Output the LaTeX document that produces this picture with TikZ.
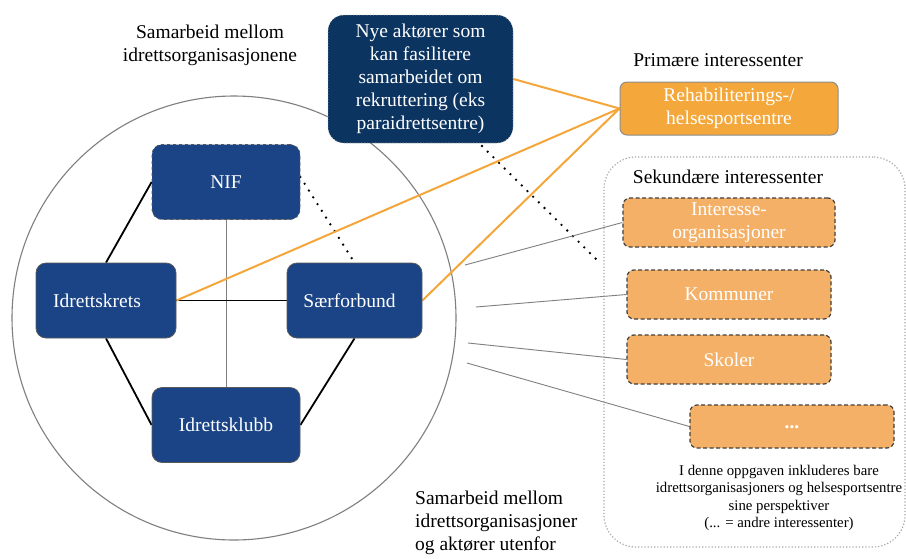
\documentclass[tikz,border=0pt]{standalone}
\usepackage{fontspec}
\setmainfont{Liberation Serif}
\usetikzlibrary{backgrounds}
\pgfdeclarelayer{edges}
\pgfsetlayers{background,edges,main}
\definecolor{navyA}{HTML}{1B4486}
\definecolor{navyB}{HTML}{0C3461}
\definecolor{orA}{HTML}{F4A83C}
\definecolor{orB}{HTML}{F5B067}
\definecolor{orL}{HTML}{F5A63A}
\definecolor{grL}{HTML}{7F7F7F}
\begin{document}
\begin{tikzpicture}[x=1pt,y=-1pt,
  every node/.style={font=\fontsize{19.5}{23}\selectfont, inner sep=0pt},
  bluebox/.style={draw=black!65, line width=0.8pt, fill=navyA, rounded corners=10pt, text=white, minimum height=75pt},
  nyebox/.style={draw=black!30, dotted, line width=0.8pt, fill=navyB, rounded corners=16pt, text=white, align=center, minimum width=185pt, minimum height=128pt},
  rehabbox/.style={draw=black!45, line width=1pt, fill=orA, rounded corners=7pt, text=white, align=center, minimum width=218pt, minimum height=53pt},
  sekbox/.style={draw=black!75, dash pattern=on 4pt off 2.5pt, line width=1.2pt, fill=orB, rounded corners=7pt, text=white, align=center, minimum width=204pt, minimum height=49pt},
  blk/.style={line width=1.8pt, black},
  thinl/.style={line width=0.9pt, grL},
  orline/.style={line width=2pt, orL},
  dotl/.style={line width=2.6pt, dash pattern=on 0pt off 8pt, line cap=round, black}
]
\path[use as bounding box, clip] (0,0) rectangle (906,558);
\begin{pgfonlayer}{background}
\fill[white] (0,0) rectangle (906,558);
\draw[line width=1.1pt, grL] (234,318) circle (222);
\end{pgfonlayer}

% container
\node[draw=black!35, dotted, line width=1.2pt, rounded corners=32pt, minimum width=301pt, minimum height=390pt] (sek) at (754.5,352) {};

% labels
\node[align=center] (t1) at (210,45) {Samarbeid mellom\\idrettsorganisasjonene};
\node (t2) at (718,60) {Primære interessenter};
\node (t3) at (728,177) {Sekundære interessenter};
\node[align=left, anchor=north west] (t4) at (415,491) {Samarbeid mellom\\idrettsorganisasjoner\\og aktører utenfor};
\node[align=center, font=\fontsize{14.8}{17.6}\selectfont] (t5) at (779,498) {I denne oppgaven inkluderes bare\\idrettsorganisasjoners og helsesportsentre\\sine perspektiver\\(... = andre interessenter)};

% boxes
\node[bluebox, dashed, minimum width=148pt] (nif) at (226,182) {NIF};
\node[bluebox, minimum width=140pt] (krets) at (106,300.5) {\hspace*{-18pt}Idrettskrets};
\node[bluebox, minimum width=135pt] (saer) at (354.5,300.5) {\hspace*{-10pt}Særforbund};
\node[bluebox, minimum width=148pt] (klubb) at (226,425) {Idrettsklubb};
\node[nyebox] (nye) at (420.5,79) {Nye aktører som\\kan fasilitere\\samarbeidet om\\rekruttering (eks\\paraidrettsentre)};
\node[rehabbox] (rehab) at (729,108.5) {Rehabiliterings-/\\helsesportsentre};
\node[sekbox, minimum width=212pt] (inter) at (729,222.5) {Interesse-\\organisasjoner};
\node[sekbox] (komm) at (729,294.5) {Kommuner};
\node[sekbox] (skol) at (729,359.5) {Skoler};
\node[sekbox, minimum height=43pt] (etc) at (792,426.5) {\raisebox{-4pt}{\textbf{...}}};

% free ends
\coordinate (s1) at (465,265);
\coordinate (s2) at (476,307);
\coordinate (s3) at (468,343);
\coordinate (s4) at (467,363);
\coordinate (d1) at (482,146);
\coordinate (d2) at (597,260);

% connectors
\begin{pgfonlayer}{edges}
\draw[thinl] (nif.south) -- (klubb.north);
\draw[blk] (nif.west) -- (krets.north);
\draw[blk] (krets.south) -- (klubb.west);
\draw[blk] (saer.south) -- (klubb.east);
\draw[blk] (krets.east) -- (saer.west);
\draw[dotl] ([yshift=5pt]nif.east) -- (saer.north);
\draw[dotl] (d1) -- (d2);
\draw[thinl] (s1) -- (inter.west);
\draw[thinl] (s2) -- (komm.west);
\draw[thinl] (s3) -- (skol.west);
\draw[thinl] (s4) -- (etc.west);
\draw[orline] (rehab.west) -- (nye.east);
\draw[orline] (rehab.west) -- (krets.east);
\draw[orline] (rehab.west) -- (saer.east);
\end{pgfonlayer}
\end{tikzpicture}
\end{document}
